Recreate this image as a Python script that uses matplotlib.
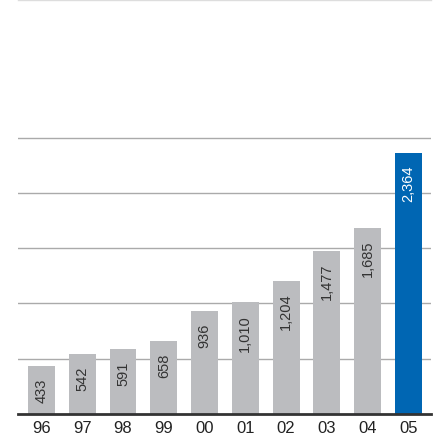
import matplotlib
matplotlib.use("Agg")
import matplotlib.pyplot as plt

plt.rcParams['font.family'] = ['Liberation Sans', 'DejaVu Sans']

years = ["96", "97", "98", "99", "00", "01", "02", "03", "04", "05"]
values = [433, 542, 591, 658, 936, 1010, 1204, 1477, 1685, 2364]
labels = ["433", "542", "591", "658", "936", "1,010", "1,204", "1,477", "1,685", "2,364"]

gray = "#bbbcbf"
blue = "#0066b3"
colors = [gray] * (len(values) - 1) + [blue]
text_colors = ["#333333"] * (len(values) - 1) + ["white"]

fig = plt.figure(figsize=(4.37, 4.39), dpi=100)
ax = fig.add_axes([0.041, 0.0547, 0.945, 0.944])

x = range(len(values))
ax.bar(x, values, width=0.66, color=colors, zorder=2)

# value labels, rotated, hanging just under each bar top
for xi, v, lab, tc in zip(x, values, labels, text_colors):
    ax.annotate(lab, (xi, v), xytext=(0, -8.5), textcoords="offset points",
                rotation=90, ha="center", va="top", fontsize=10.5, color=tc, zorder=3)

ax.set_xlim(-0.576, 9.55)
ax.set_ylim(0, 3750)
ax.set_yticks([500, 1000, 1500, 2000, 2500])
ax.yaxis.grid(True, color="#aaaaaa", linewidth=1.0, zorder=0)
ax.tick_params(axis="y", left=False, labelleft=False)
ax.set_xticks(list(x))
ax.set_xticklabels(years, fontsize=12, color="#222222")
ax.tick_params(axis="x", length=0, pad=4)

for s in ["left", "right"]:
    ax.spines[s].set_visible(False)
ax.spines["top"].set_color("#dddddd")
ax.spines["top"].set_linewidth(1.0)
ax.spines["bottom"].set_color("#333333")
ax.spines["bottom"].set_linewidth(2.0)
ax.spines["bottom"].set_zorder(4)

fig.savefig("out.png", dpi=100)
